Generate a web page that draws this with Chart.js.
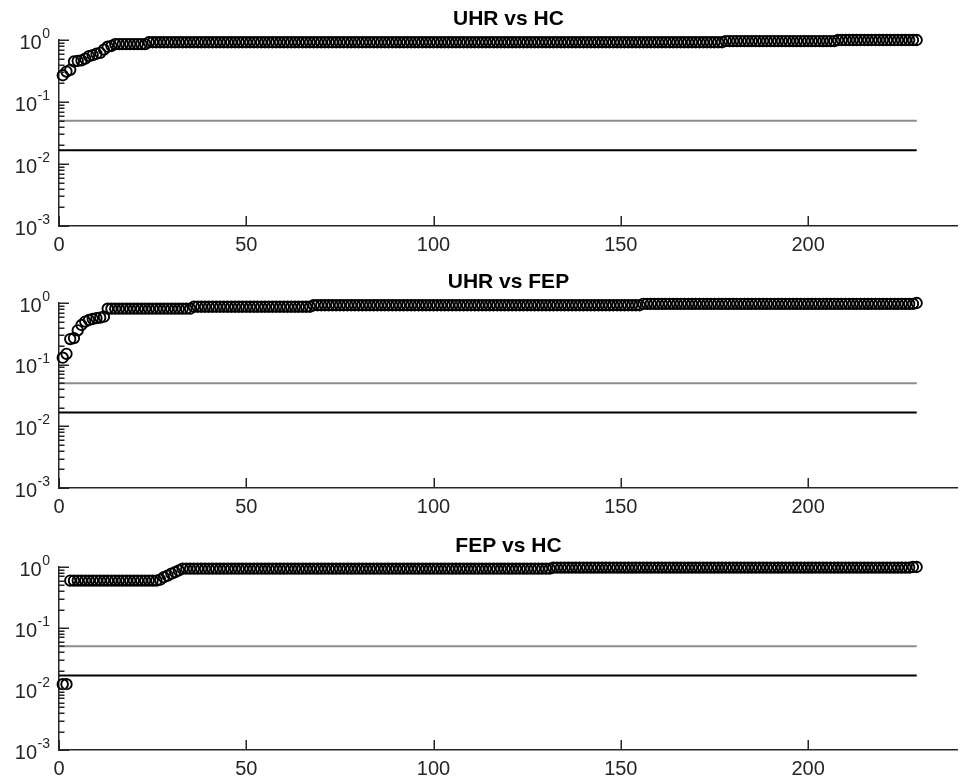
<!DOCTYPE html>
<html>
<head>
<meta charset="utf-8">
<script src="https://cdn.jsdelivr.net/npm/chart.js@4.4.1/dist/chart.umd.min.js"></script>
<style>
  html, body { margin: 0; padding: 0; background: #fff; overflow: hidden; }
  body { width: 965px; height: 779px; position: relative; }
  canvas { position: absolute; left: 0; }
</style>
</head>
<body>
<canvas id="c1" width="965" height="256" style="top:0px"></canvas>
<canvas id="c2" width="965" height="255" style="top:263px"></canvas>
<canvas id="c3" width="965" height="253" style="top:527px"></canvas>
<script>
// ---- data (sorted p-values, one per rank 1..229) ----
const panelTitles = ['UHR vs HC', 'UHR vs FEP', 'FEP vs HC'];

const uhrVsHc = [
  0.27,0.31,0.33,0.45,0.46,0.47,0.50,0.55,0.57,0.60,
  0.62,0.70,0.78,0.80,0.86,0.86,0.86,0.86,0.86,0.86,
  0.86,0.86,0.86,0.92,0.92,0.92,0.92,0.92,0.92,0.92,
  0.92,0.92,0.92,0.92,0.92,0.92,0.92,0.92,0.92,0.92,
  0.92,0.92,0.92,0.92,0.92,0.92,0.92,0.92,0.92,0.92,
  0.92,0.92,0.92,0.92,0.92,0.92,0.92,0.92,0.92,0.92,
  0.92,0.92,0.92,0.92,0.92,0.92,0.92,0.92,0.92,0.92,
  0.92,0.92,0.92,0.92,0.92,0.92,0.92,0.92,0.92,0.92,
  0.92,0.92,0.92,0.92,0.92,0.92,0.92,0.92,0.92,0.92,
  0.92,0.92,0.92,0.92,0.92,0.92,0.92,0.92,0.92,0.92,
  0.92,0.92,0.92,0.92,0.92,0.92,0.92,0.92,0.92,0.92,
  0.92,0.92,0.92,0.92,0.92,0.92,0.92,0.92,0.92,0.92,
  0.92,0.92,0.92,0.92,0.92,0.92,0.92,0.92,0.92,0.92,
  0.92,0.92,0.92,0.92,0.92,0.92,0.92,0.92,0.92,0.92,
  0.92,0.92,0.92,0.92,0.92,0.92,0.92,0.92,0.92,0.92,
  0.92,0.92,0.92,0.92,0.92,0.92,0.92,0.92,0.92,0.92,
  0.92,0.92,0.92,0.92,0.92,0.92,0.92,0.92,0.92,0.92,
  0.92,0.92,0.92,0.92,0.92,0.92,0.92,0.96,0.96,0.96,
  0.96,0.96,0.96,0.96,0.96,0.96,0.96,0.96,0.96,0.96,
  0.96,0.96,0.96,0.96,0.96,0.96,0.96,0.96,0.96,0.96,
  0.96,0.96,0.96,0.96,0.96,0.96,0.96,1.00,1.00,1.00,
  1.00,1.00,1.00,1.00,1.00,1.00,1.00,1.00,1.00,1.00,
  1.00,1.00,1.00,1.00,1.00,1.00,1.00,1.00,1.00
];

const uhrVsFep = [
  0.13,0.15,0.26,0.27,0.36,0.44,0.50,0.53,0.55,0.57,
  0.58,0.60,0.81,0.81,0.81,0.81,0.81,0.81,0.81,0.81,
  0.81,0.81,0.81,0.81,0.81,0.81,0.81,0.81,0.81,0.81,
  0.81,0.81,0.81,0.81,0.81,0.87,0.87,0.87,0.87,0.87,
  0.87,0.87,0.87,0.87,0.87,0.87,0.87,0.87,0.87,0.87,
  0.87,0.87,0.87,0.87,0.87,0.87,0.87,0.87,0.87,0.87,
  0.87,0.87,0.87,0.87,0.87,0.87,0.87,0.92,0.92,0.92,
  0.92,0.92,0.92,0.92,0.92,0.92,0.92,0.92,0.92,0.92,
  0.92,0.92,0.92,0.92,0.92,0.92,0.92,0.92,0.92,0.92,
  0.92,0.92,0.92,0.92,0.92,0.92,0.92,0.92,0.92,0.92,
  0.92,0.92,0.92,0.92,0.92,0.92,0.92,0.92,0.92,0.92,
  0.92,0.92,0.92,0.92,0.92,0.92,0.92,0.92,0.92,0.92,
  0.92,0.92,0.92,0.92,0.92,0.92,0.92,0.92,0.92,0.92,
  0.92,0.92,0.92,0.92,0.92,0.92,0.92,0.92,0.92,0.92,
  0.92,0.92,0.92,0.92,0.92,0.92,0.92,0.92,0.92,0.92,
  0.92,0.92,0.92,0.92,0.92,0.97,0.97,0.97,0.97,0.97,
  0.97,0.97,0.97,0.97,0.97,0.97,0.97,0.97,0.97,0.97,
  0.97,0.97,0.97,0.97,0.97,0.97,0.97,0.97,0.97,0.97,
  0.97,0.97,0.97,0.97,0.97,0.97,0.97,0.97,0.97,0.97,
  0.97,0.97,0.97,0.97,0.97,0.97,0.97,0.97,0.97,0.97,
  0.97,0.97,0.97,0.97,0.97,0.97,0.97,0.97,0.97,0.97,
  0.97,0.97,0.97,0.97,0.97,0.97,0.97,0.97,0.97,0.97,
  0.97,0.97,0.97,0.97,0.97,0.97,0.97,0.97,1.00
];

const fepVsHc = [
  0.012,0.012,0.60,0.60,0.60,0.60,0.60,0.60,0.60,0.60,
  0.60,0.60,0.60,0.60,0.60,0.60,0.60,0.60,0.60,0.60,
  0.60,0.60,0.60,0.60,0.60,0.60,0.62,0.68,0.72,0.78,
  0.82,0.88,0.94,0.94,0.94,0.94,0.94,0.94,0.94,0.94,
  0.94,0.94,0.94,0.94,0.94,0.94,0.94,0.94,0.94,0.94,
  0.94,0.94,0.94,0.94,0.94,0.94,0.94,0.94,0.94,0.94,
  0.94,0.94,0.94,0.94,0.94,0.94,0.94,0.94,0.94,0.94,
  0.94,0.94,0.94,0.94,0.94,0.94,0.94,0.94,0.94,0.94,
  0.94,0.94,0.94,0.94,0.94,0.94,0.94,0.94,0.94,0.94,
  0.94,0.94,0.94,0.94,0.94,0.94,0.94,0.94,0.94,0.94,
  0.94,0.94,0.94,0.94,0.94,0.94,0.94,0.94,0.94,0.94,
  0.94,0.94,0.94,0.94,0.94,0.94,0.94,0.94,0.94,0.94,
  0.94,0.94,0.94,0.94,0.94,0.94,0.94,0.94,0.94,0.94,
  0.94,0.98,0.98,0.98,0.98,0.98,0.98,0.98,0.98,0.98,
  0.98,0.98,0.98,0.98,0.98,0.98,0.98,0.98,0.98,0.98,
  0.98,0.98,0.98,0.98,0.98,0.98,0.98,0.98,0.98,0.98,
  0.98,0.98,0.98,0.98,0.98,0.98,0.98,0.98,0.98,0.98,
  0.98,0.98,0.98,0.98,0.98,0.98,0.98,0.98,0.98,0.98,
  0.98,0.98,0.98,0.98,0.98,0.98,0.98,0.98,0.98,0.98,
  0.98,0.98,0.98,0.98,0.98,0.98,0.98,0.98,0.98,0.98,
  0.98,0.98,0.98,0.98,0.98,0.98,0.98,0.98,0.98,0.98,
  0.98,0.98,0.98,0.98,0.98,0.98,0.98,0.98,0.98,0.98,
  0.98,0.98,0.98,0.98,0.98,0.98,0.98,1.00,1.00
];

const thresholdValues = [0.05, 0.0167];      // uncorrected and corrected alpha
const thresholdColors = ['#8c8c8c', '#000000'];
const thresholdRange = [0, 229];              // x extent of the threshold lines

const xTickValues = [0, 50, 100, 150, 200];
const xLimits = [0, 240];
const yTickValues = [0.001, 0.01, 0.1, 1];
const yTickBase = ['10', '10', '10', '10'];
const yTickExponents = ['-3', '-2', '-1', '0'];
const yLimits = [0.001, 1];

// ---- drawing ----
const FONT = "'Liberation Sans', Arial, Helvetica, sans-serif";
const AXIS_COLOR = '#262626';

const insideTicks = {
  id: 'insideTicks',
  afterDraw(chart) {
    const { ctx, chartArea: a, scales: { x, y } } = chart;
    ctx.save();
    ctx.strokeStyle = AXIS_COLOR;
    ctx.lineWidth = 1.5;
    ctx.beginPath();
    x.ticks.forEach(t => {
      if (!xTickValues.includes(t.value)) return;
      const px = Math.round(x.getPixelForValue(t.value)) + 0.25;
      ctx.moveTo(px, a.bottom);
      ctx.lineTo(px, a.bottom - 10);
    });
    y.ticks.forEach(t => {
      const v = t.value;
      const e = Math.floor(Math.log10(v) + 1e-9);
      const m = v / Math.pow(10, e);
      if (Math.abs(m - Math.round(m)) > 1e-6) return;
      const major = Math.abs(m - 1) < 1e-6;
      const py = Math.round(y.getPixelForValue(v)) + 0.25;
      ctx.moveTo(a.left, py);
      ctx.lineTo(a.left + (major ? 10 : 5.5), py);
    });
    ctx.stroke();

    // y tick labels "10" with a raised exponent, placed at the scale's tick pixels
    ctx.fillStyle = AXIS_COLOR;
    ctx.textBaseline = 'middle';
    yTickValues.forEach((v, i) => {
      const py = y.getPixelForValue(v);
      const right = a.left - 9;
      ctx.font = `14px ${FONT}`;
      const ew = ctx.measureText(yTickExponents[i]).width;
      ctx.textAlign = 'left';
      ctx.fillText(yTickExponents[i], right - ew, py - 6);
      ctx.font = `20px ${FONT}`;
      ctx.textAlign = 'right';
      ctx.fillText(yTickBase[i], right - ew - 0.5, py + 3);
    });
    ctx.restore();
  }
};

function makeChart(id, title, values) {
  const points = values.map((v, i) => ({ x: i + 1, y: v }));
  const lines = thresholdValues.map((tv, k) => ({
    data: [{ x: thresholdRange[0], y: tv }, { x: thresholdRange[1], y: tv }],
    showLine: true,
    borderColor: thresholdColors[k],
    borderWidth: 2,
    pointRadius: 0,
    fill: false,
    clip: false
  }));
  return new Chart(document.getElementById(id), {
    type: 'scatter',
    data: {
      datasets: [
        {
          data: points,
          showLine: false,
          pointStyle: 'circle',
          pointRadius: 5.2,
          pointBorderWidth: 1.9,
          borderColor: '#000',
          backgroundColor: 'rgba(0,0,0,0)',
          pointBackgroundColor: 'rgba(0,0,0,0)',
          pointBorderColor: '#000',
          clip: false
        },
        ...lines
      ]
    },
    options: {
      responsive: false,
      animation: false,
      devicePixelRatio: 1,
      events: [],
      layout: { padding: 0 },
      plugins: {
        legend: { display: false },
        tooltip: { enabled: false },
        title: {
          display: true,
          text: title,
          fullSize: false,
          color: '#000',
          font: { family: FONT, size: 21, weight: 'bold', lineHeight: 1.2 },
          padding: { top: 6.5, bottom: 8.3 }
        }
      },
      scales: {
        x: {
          type: 'linear',
          min: xLimits[0],
          max: xLimits[1],
          grid: { display: false, drawTicks: false },
          border: { display: true, color: AXIS_COLOR, width: 1.5 },
          ticks: {
            stepSize: 50,
            includeBounds: false,
            autoSkip: false,
            maxRotation: 0,
            padding: 7,
            color: AXIS_COLOR,
            font: { family: FONT, size: 20 },
            callback: v => xTickValues.includes(v) ? String(v) : ''
          },
          afterFit(scale) { scale.height = 30; }
        },
        y: {
          type: 'logarithmic',
          min: yLimits[0],
          max: yLimits[1],
          grid: { display: false, drawTicks: false },
          border: { display: true, color: AXIS_COLOR, width: 1.5 },
          ticks: {
            autoSkip: false,
            padding: 7,
            callback: () => ''
          },
          afterFit(scale) { scale.width = 59; }
        }
      }
    },
    plugins: [insideTicks]
  });
}

makeChart('c1', panelTitles[0], uhrVsHc);
makeChart('c2', panelTitles[1], uhrVsFep);
makeChart('c3', panelTitles[2], fepVsHc);
</script>
</body>
</html>
